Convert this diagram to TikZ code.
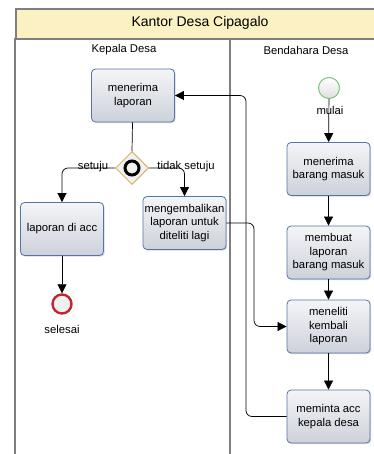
\documentclass[tikz,border=0pt]{standalone}
\usepackage{fontspec}
\setmainfont{Liberation Sans}
\usetikzlibrary{arrows.meta,shapes.geometric,shadows}
\definecolor{hdr}{HTML}{FBF1C2}
\definecolor{frame}{HTML}{7F7F7F}
\definecolor{boxb}{HTML}{5573A8}
\definecolor{boxbot}{HTML}{CDD1DA}
\definecolor{boxtop}{HTML}{F4F5F7}
\definecolor{gold}{HTML}{D8B46A}
\definecolor{startg}{HTML}{7DC37D}
\definecolor{endr}{HTML}{C0282E}
\tikzset{
  task/.style={draw=boxb, line width=0.8pt, rounded corners=4pt, minimum width=83pt, minimum height=53pt,
    top color=boxtop, bottom color=boxbot, align=center, font=\fontsize{11.3}{13.5}\selectfont,
    inner sep=0pt, drop shadow={shadow xshift=1.2pt, shadow yshift=-1.2pt, opacity=0.3}},
  lbl/.style={font=\fontsize{11.3}{13.5}\selectfont, inner sep=1pt},
  flow/.style={draw=black, line width=0.7pt, rounded corners=6pt, -{Triangle[length=9pt,width=9pt]}},
  plain/.style={draw=black, line width=0.7pt, rounded corners=6pt}
}
\begin{document}
\begin{tikzpicture}[x=1pt,y=-1pt]
\useasboundingbox (0,0) rectangle (373,454);
% pool
\fill[white] (0,0) rectangle (373,454);
\node[draw=frame, line width=1.6pt, fill=hdr, minimum width=362pt, minimum height=30pt, anchor=north west, inner sep=0pt] (hdr) at (15,8) {};
\node[font=\fontsize{14}{16}\selectfont] (title) at (200,23) {Kantor Desa Cipagalo};
\coordinate (pl) at (15,38);
\coordinate (pb) at (15,455);
\coordinate (dl) at (230,38);
\coordinate (db) at (230,455);
\draw[frame, line width=1.6pt] (pl) -- (pb);
\draw[frame, line width=1.2pt] (dl) -- (db);
\node[lbl] (lane1) at (124,50) {Kepala Desa};
\node[lbl] (lane2) at (306,50) {Bendahara Desa};
% left lane
\node[task] (ml) at (133,95.5) {menerima\\laporan};
\node[diamond, draw=gold, line width=1pt, fill=gray!12, minimum width=33pt, minimum height=33pt, inner sep=0pt] (gw) at (132,168) {};
\node[circle, draw=black, line width=3pt, minimum size=14pt, inner sep=0pt] (gwc) at (gw) {};
\node[task] (acc) at (62,229) {laporan di acc};
\node[task] (kemb) at (184.5,223) {mengembalikan\\laporan untuk\\diteliti lagi};
\node[circle, draw=endr, line width=2.4pt, fill=gray!12, minimum size=19pt, inner sep=0pt] (end) at (62,304) {};
\node[lbl] (endl) at (62,329) {selesai};
% right lane
\node[circle, draw=startg, line width=1pt, top color=white, bottom color=gray!25, minimum size=21pt, inner sep=0pt] (start) at (329,88) {};
\node[task] (mb) at (328.5,169) {menerima\\barang masuk};
\node[task] (lap) at (328.5,252.5) {membuat\\laporan\\barang masuk};
\node[task] (nel) at (328.5,326.5) {meneliti\\kembali\\laporan};
\node[task] (mint) at (328.5,416.5) {meminta acc\\kepala desa};
% flows
\draw[flow] (start) -- (mb);
\node[lbl, fill=none] (startl) at (330,110) {mulai};
\draw[flow] (mb) -- (lap);
\draw[flow] (lap) -- (nel);
\draw[flow] (nel) -- (mint);
\draw[flow] (acc) -- (end);
\draw[plain] (ml) -- (gw.north);
\draw[flow] (gw.west) -- (62,168) -- (acc.north);
\draw[flow] (gw.east) -- (184.5,168) -- (kemb.north);
\node[lbl] (setuju) at (93,166.5) {setuju};
\node[lbl] (tidak) at (186,166.5) {tidak setuju};
\draw[flow] (mint.west) -- (246,416.5) -- (246,95.5) -- (ml.east);
\draw[flow] (kemb.east) -- (254,223) -- (254,326.5) -- (nel.west);
\end{tikzpicture}
\end{document}
